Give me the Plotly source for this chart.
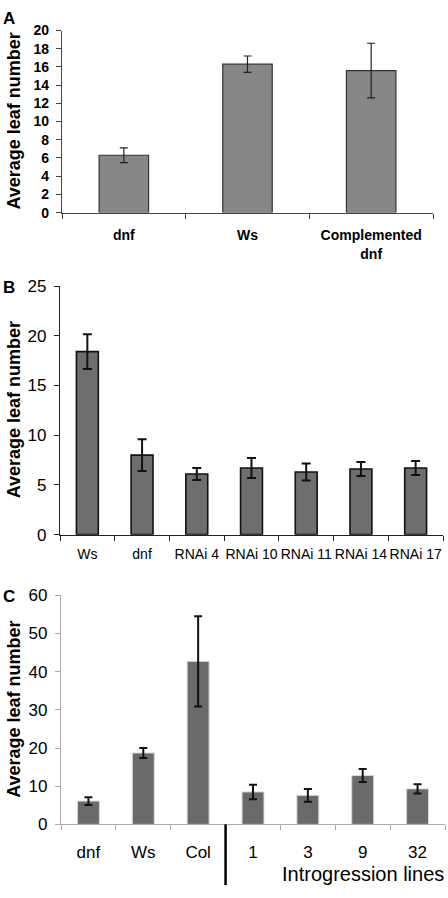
import plotly.graph_objects as go

W, H = 448, 898

# Panel A
a_cats = ["dnf", "Ws", "Complemented<br>dnf"]
a_vals = [6.3, 16.3, 15.6]
a_err = [0.8, 0.9, 3.0]

# Panel B
b_cats = ["Ws", "dnf", "RNAi 4", "RNAi 10", "RNAi 11", "RNAi 14", "RNAi 17"]
b_vals = [18.4, 8.0, 6.1, 6.7, 6.3, 6.6, 6.7]
b_err = [1.75, 1.6, 0.6, 1.0, 0.85, 0.7, 0.7]

# Panel C
c_cats = ["dnf", "Ws", "Col", "1", "3", "9", "32"]
c_vals = [6.1, 18.7, 42.7, 8.5, 7.6, 12.8, 9.3]
c_err = [1.0, 1.3, 11.8, 1.9, 1.7, 1.7, 1.2]

FONT = "Liberation Sans, Arial, sans-serif"


def px_x(p):
    return p / W


def px_y(p):
    return 1 - p / H


fig = go.Figure()

fig.add_trace(go.Bar(
    x=a_cats, y=a_vals, xaxis="x", yaxis="y",
    marker=dict(color="#878787", line=dict(color="#333333", width=1.2)),
    error_y=dict(type="data", array=a_err, color="#222222", thickness=1.2, width=4),
    showlegend=False,
))
fig.add_trace(go.Bar(
    x=b_cats, y=b_vals, xaxis="x2", yaxis="y2",
    marker=dict(color="#6e6e6e", line=dict(color="#111111", width=1.6)),
    error_y=dict(type="data", array=b_err, color="#111111", thickness=2, width=4.5),
    showlegend=False,
))
fig.add_trace(go.Bar(
    x=c_cats, y=c_vals, xaxis="x3", yaxis="y3",
    marker=dict(color="#6a6a6a", line=dict(color="#d8d8d8", width=1)),
    error_y=dict(type="data", array=c_err, color="#111111", thickness=2, width=4),
    showlegend=False,
))

common_x = dict(type="category", showgrid=False, zeroline=False, showline=True,
                ticks="outside", tickson="boundaries", ticklen=5, tickangle=0)
common_y = dict(showgrid=False, zeroline=False, showline=True, ticks="outside",
                ticklen=5, ticklabelstandoff=4)

fig.update_layout(
    width=W, height=H,
    margin=dict(l=0, r=0, t=0, b=0),
    paper_bgcolor="white", plot_bgcolor="white",
    font=dict(family=FONT, color="black"),
    bargap=0.6,
    xaxis=dict(common_x, domain=[px_x(62), px_x(433)], anchor="y", range=[-0.5, 2.5],
               linecolor="#444444", tickcolor="#444444", linewidth=1.2,
               tickfont=dict(size=14, family=FONT, weight="bold"), ticklabelstandoff=10),
    yaxis=dict(common_y, domain=[px_y(208), px_y(22)], anchor="x", range=[0, 20], dtick=2,
               linecolor="#444444", tickcolor="#444444", linewidth=1.2,
               tickfont=dict(size=14, family=FONT, weight="bold")),
    xaxis2=dict(common_x, domain=[px_x(60), px_x(443)], anchor="y2", range=[-0.5, 6.5],
                linecolor="#222222", tickcolor="#222222", linewidth=1.2,
                tickfont=dict(size=14, family=FONT), ticklabelstandoff=6),
    yaxis2=dict(common_y, domain=[px_y(537), px_y(283)], anchor="x2", range=[0, 25], dtick=5,
                linecolor="#222222", tickcolor="#222222", linewidth=1.2,
                tickfont=dict(size=17, family=FONT)),
    xaxis3=dict(common_x, domain=[px_x(61), px_x(445)], anchor="y3", range=[-0.5, 6.5],
                linecolor="#aaaaaa", tickcolor="#aaaaaa", linewidth=1.2,
                tickfont=dict(size=17, family=FONT), ticklabelstandoff=12),
    yaxis3=dict(common_y, domain=[px_y(833), px_y(599)], anchor="x3", range=[0, 60], dtick=10,
                linecolor="#aaaaaa", tickcolor="#aaaaaa", linewidth=1.2,
                tickfont=dict(size=17, family=FONT)),
)

# Separator in panel C between controls and introgression lines
fig.add_shape(type="line", xref="x3", yref="paper", x0=2.5, x1=2.5,
              y0=px_y(833), y1=px_y(895), line=dict(color="black", width=2.5))

ann = []
for yc in [(208 + 22) / 2, (537 + 283) / 2, (833 + 599) / 2]:
    ann.append(dict(text="<b>Average leaf number</b>", x=px_x(14), y=px_y(yc),
                    xref="paper", yref="paper", textangle=-90, showarrow=False,
                    xanchor="center", yanchor="middle",
                    font=dict(size=18, family=FONT, color="black")))
for lab, yc in [("A", 10), ("B", 285), ("C", 600)]:
    ann.append(dict(text="<b>%s</b>" % lab, x=px_x(9), y=px_y(yc), xref="paper", yref="paper",
                    showarrow=False, xanchor="center", yanchor="middle",
                    font=dict(size=17, family=FONT, color="black")))
ann.append(dict(text="Introgression lines", x=px_x(446), y=px_y(884), xref="paper", yref="paper",
                showarrow=False, xanchor="right", yanchor="middle",
                font=dict(size=20, family=FONT, color="black")))
fig.update_layout(annotations=ann)

fig.write_html(
    "out.html",
    config={"displayModeBar": False},
    post_script="document.body.style.margin='0';document.body.style.padding='0';"
                "document.documentElement.style.overflow='hidden';",
)
